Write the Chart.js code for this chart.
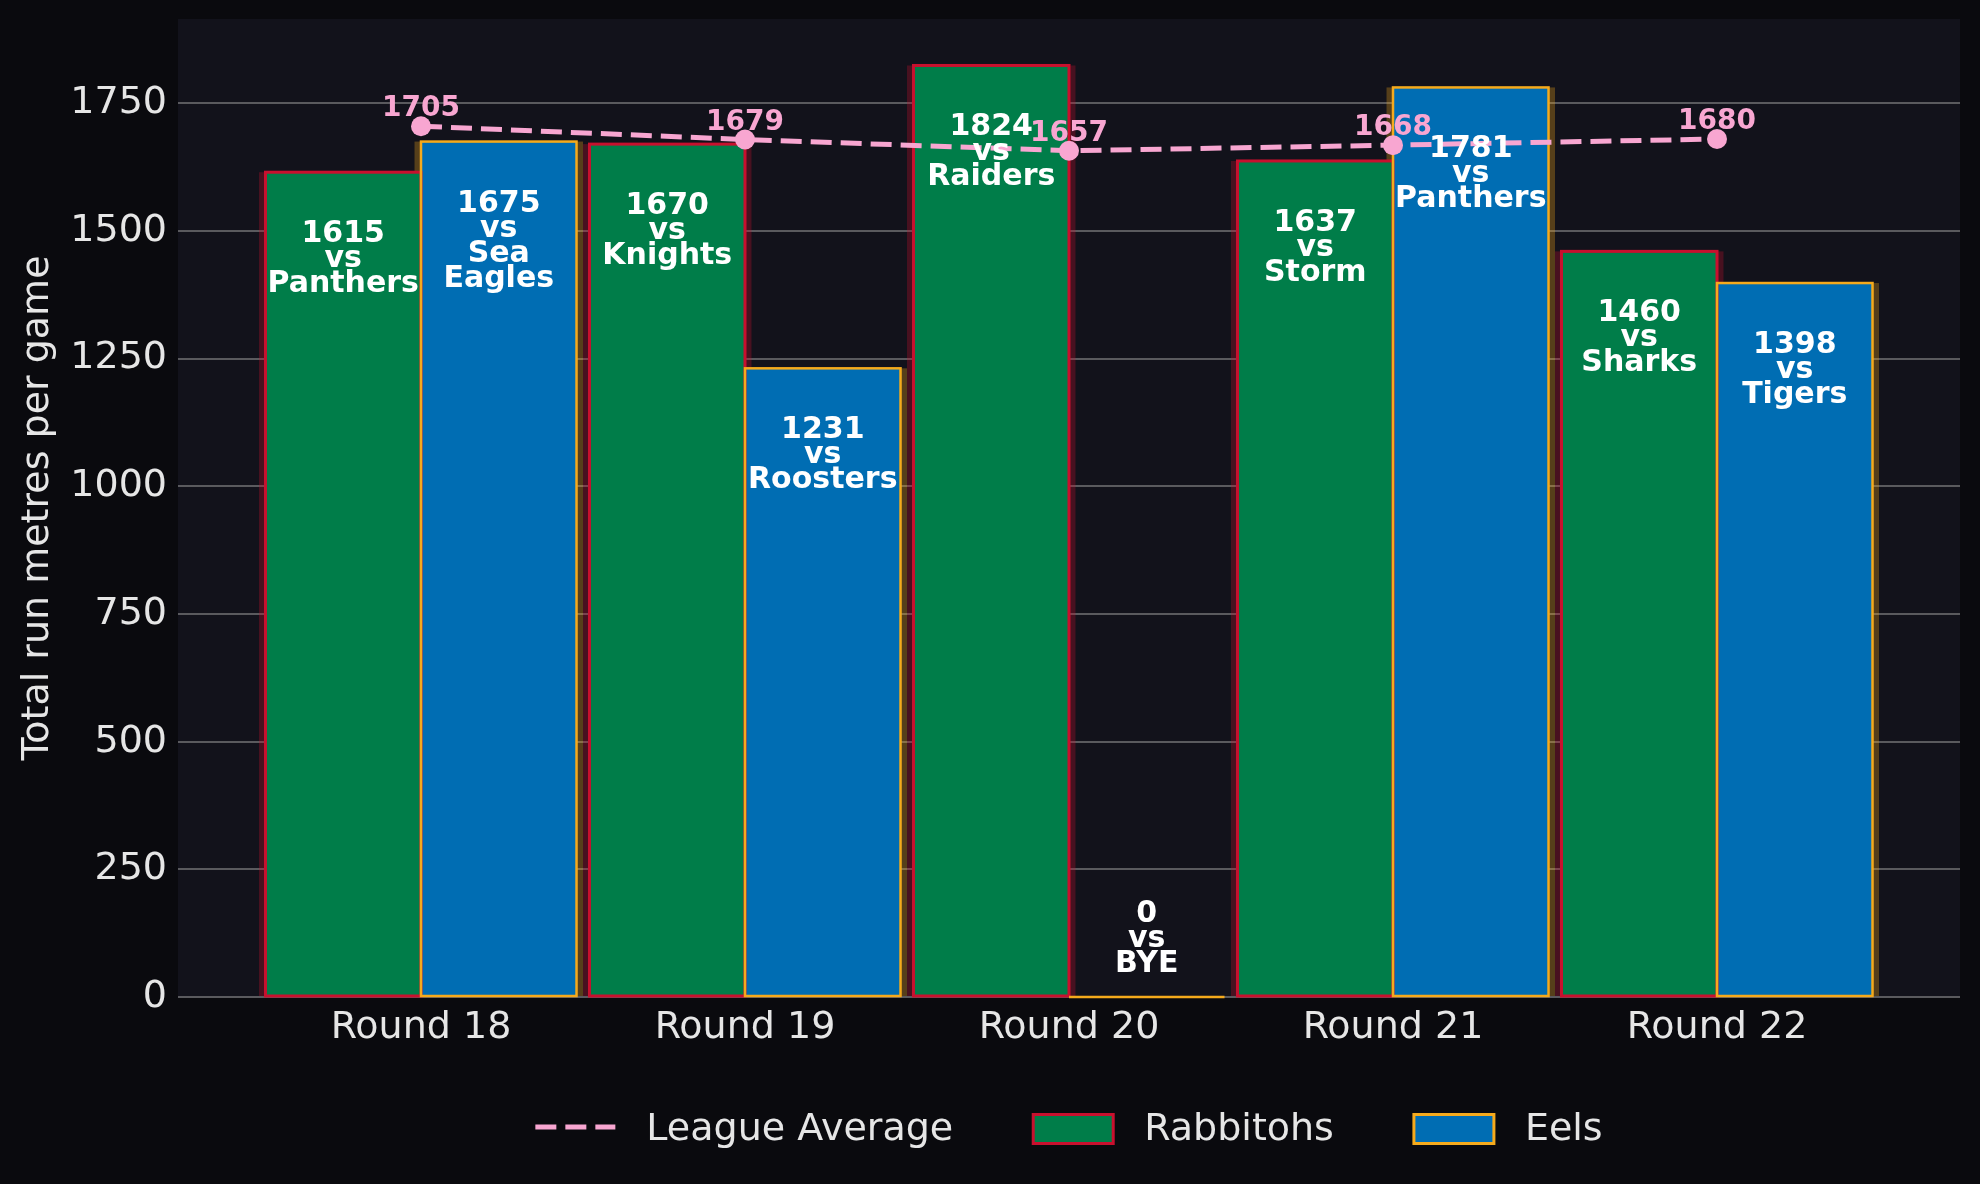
<!DOCTYPE html>
<html>
<head>
<meta charset="utf-8">
<script src="https://cdn.jsdelivr.net/npm/chart.js@4.4.1/dist/chart.umd.min.js"></script>
<style>
  html, body { margin: 0; padding: 0; background: #0a0a0e; }
  #wrap { width: 1980px; height: 1184px; }
</style>
</head>
<body>
<div id="wrap"><canvas id="runChart" width="1980" height="1184"></canvas></div>
<script>
const rounds = ['Round 18', 'Round 19', 'Round 20', 'Round 21', 'Round 22']
const rabbitohs = [1615, 1670, 1824, 1637, 1460]
const rabbitohsOpp = ['Panthers', 'Knights', 'Raiders', 'Storm', 'Sharks']
const eels = [1675, 1231, 0, 1781, 1398]
const eelsOpp = ['Sea Eagles', 'Roosters', 'BYE', 'Panthers', 'Tigers']
const leagueAvg = [1705, 1679, 1657, 1668, 1680]

const pageBg = '#0a0a0e'
const plotBg = '#12121b'
const textColor = '#e6e6e6'
const gridColor = '#5a5a5e'
const pink = '#f8a6d1'
const green = '#007d49'
const red = '#c8102e'
const blue = '#006db3'
const gold = '#f5aa1c'

Chart.defaults.font.family = "'DejaVu Sans', sans-serif"

const runChart = document.getElementById('runChart').getContext('2d')

// bars drawn by chart.js, glow + outlines + labels + legend drawn here
const barDeco = {
    id: 'barDeco',
    beforeDraw(chart) {
        const { ctx, chartArea: a } = chart
        ctx.save()
        ctx.fillStyle = pageBg
        ctx.fillRect(0, 0, chart.width, chart.height)
        ctx.fillStyle = plotBg
        ctx.fillRect(a.left, a.top, a.width, a.height)
        ctx.restore()
    },
    beforeDatasetsDraw(chart) {
        const ctx = chart.ctx
        const xs = chart.scales.x
        const ext = xs.getPixelForValue(0.02) - xs.getPixelForValue(0)
        ctx.save()
        ;[1, 2].forEach(i => {
            const ds = chart.data.datasets[i]
            ctx.fillStyle = ds.glowColor
            chart.getDatasetMeta(i).data.forEach(bar => {
                const h = bar.base - bar.y
                if (h <= 0) return
                ctx.fillRect(bar.x - bar.width / 2 - ext, bar.y, bar.width + 2 * ext, h)
            })
        })
        ctx.restore()
    },
    afterDatasetDraw(chart, args) {
        if (args.index !== 1) return
        const ctx = chart.ctx
        ctx.save()
        ;[1, 2].forEach(i => {
            const ds = chart.data.datasets[i]
            ctx.strokeStyle = ds.edgeColor
            ctx.lineWidth = ds.edgeWidth
            chart.getDatasetMeta(i).data.forEach(bar => {
                ctx.strokeRect(bar.x - bar.width / 2, bar.y, bar.width, bar.base - bar.y)
            })
        })
        ctx.restore()
    },
    afterDatasetsDraw(chart) {
        const ctx = chart.ctx
        ctx.save()
        ctx.textAlign = 'center'
        ctx.textBaseline = 'alphabetic'
        ctx.font = "bold 30px 'DejaVu Sans'"
        ctx.fillStyle = '#ffffff'
        ;[1, 2].forEach(i => {
            const ds = chart.data.datasets[i]
            chart.getDatasetMeta(i).data.forEach((bar, j) => {
                const value = ds.data[j].y
                const lines = [String(value), 'vs'].concat(ds.opponents[j].split(' '))
                const y0 = value > 0 ? bar.y + 70 : bar.base - 75
                lines.forEach((t, n) => ctx.fillText(t, bar.x, y0 + n * 25))
            })
        })
        ctx.font = "bold 28px 'DejaVu Sans'"
        ctx.fillStyle = pink
        chart.getDatasetMeta(0).data.forEach((pt, j) => {
            ctx.fillText(String(leagueAvg[j]), pt.x, pt.y - 10)
        })
        ctx.restore()
    },
    afterDraw(chart) {
        const ctx = chart.ctx
        const a = chart.chartArea
        const items = [
            { kind: 'line', text: 'League Average', color: pink },
            { kind: 'box', text: 'Rabbitohs', fill: green, edge: red },
            { kind: 'box', text: 'Eels', fill: blue, edge: gold }
        ]
        const sampleW = 80, sampleH = 29, gapText = 31, gapItem = 80
        ctx.save()
        ctx.font = "38px 'DejaVu Sans'"
        let total = 0
        items.forEach((it, k) => {
            it.w = ctx.measureText(it.text).width
            total += sampleW + gapText + it.w + (k ? gapItem : 0)
        })
        let x = (a.left + a.right) / 2 - total / 2
        const cy = 1129
        items.forEach(it => {
            if (it.kind === 'line') {
                ctx.strokeStyle = it.color
                ctx.lineWidth = 5
                ctx.setLineDash([21, 9])
                ctx.beginPath()
                ctx.moveTo(x, cy - 2)
                ctx.lineTo(x + sampleW, cy - 2)
                ctx.stroke()
                ctx.setLineDash([])
            } else {
                ctx.fillStyle = it.fill
                ctx.fillRect(x, cy - sampleH / 2, sampleW, sampleH)
                ctx.strokeStyle = it.edge
                ctx.lineWidth = 3
                ctx.strokeRect(x, cy - sampleH / 2, sampleW, sampleH)
            }
            ctx.fillStyle = textColor
            ctx.textAlign = 'left'
            ctx.textBaseline = 'middle'
            ctx.fillText(it.text, x + sampleW + gapText, cy + 1)
            x += sampleW + gapText + it.w + gapItem
        })
        ctx.restore()
    }
}

new Chart(runChart, {
    type: 'bar',
    data: {
        datasets: [
            {
                type: 'line',
                label: 'League Average',
                data: leagueAvg.map((v, i) => ({ x: i, y: v })),
                borderColor: pink,
                backgroundColor: pink,
                borderWidth: 5,
                borderDash: [21, 9],
                pointRadius: 10,
                pointBackgroundColor: pink,
                pointBorderWidth: 0,
                fill: false,
                tension: 0
            },
            {
                label: 'Rabbitohs',
                data: rabbitohs.map((v, i) => ({ x: i, y: v })),
                opponents: rabbitohsOpp,
                backgroundColor: green,
                borderWidth: 0,
                edgeColor: red,
                edgeWidth: 3,
                glowColor: 'rgba(200, 16, 46, 0.3)',
                categoryPercentage: 0.96,
                barPercentage: 1.0
            },
            {
                label: 'Eels',
                data: eels.map((v, i) => ({ x: i, y: v })),
                opponents: eelsOpp,
                backgroundColor: blue,
                borderWidth: 0,
                edgeColor: gold,
                edgeWidth: 2.5,
                glowColor: 'rgba(245, 170, 28, 0.3)',
                categoryPercentage: 0.96,
                barPercentage: 1.0
            }
        ]
    },
    options: {
        responsive: false,
        devicePixelRatio: 1,
        animation: false,
        layout: { padding: { top: 19, right: 20, bottom: 0, left: 0 } },
        plugins: {
            legend: { display: false },
            tooltip: { enabled: false }
        },
        scales: {
            x: {
                type: 'linear',
                offset: false,
                min: -0.75,
                max: 4.75,
                grid: { display: false },
                border: { display: false },
                afterBuildTicks: s => { s.ticks = rounds.map((r, i) => ({ value: i })) },
                ticks: {
                    color: textColor,
                    font: { size: 38 },
                    padding: 0,
                    maxRotation: 0,
                    autoSkip: false,
                    callback: v => rounds[v] ?? ''
                },
                afterFit: s => { s.height = 187; s.paddingLeft = 0; s.paddingRight = 0 }
            },
            y: {
                min: 0,
                max: 1915,
                ticks: {
                    stepSize: 250,
                    includeBounds: false,
                    color: textColor,
                    font: { size: 38 },
                    padding: 11,
                    callback: v => String(v)
                },
                grid: { color: gridColor, lineWidth: 2, drawTicks: false },
                border: { display: false },
                title: {
                    display: true,
                    text: 'Total run metres per game',
                    color: textColor,
                    font: { size: 38 },
                    padding: { top: 15, bottom: 0 }
                },
                afterFit: s => { s.width = 178; s.paddingTop = 0; s.paddingBottom = 0 }
            }
        }
    },
    plugins: [barDeco]
})
</script>
</body>
</html>
